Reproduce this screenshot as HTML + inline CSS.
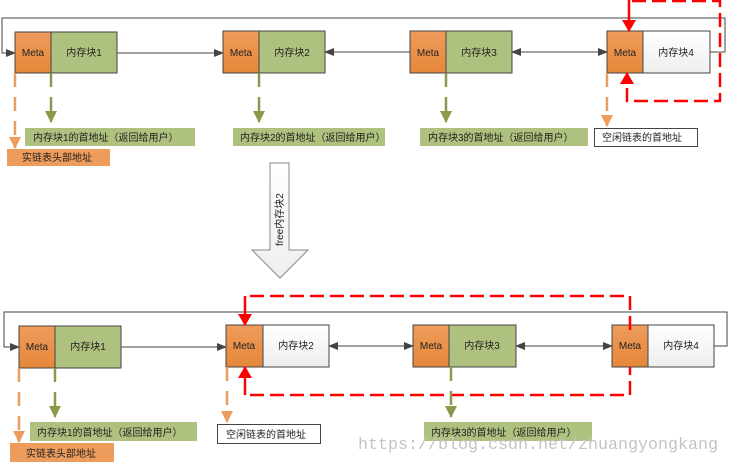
<!DOCTYPE html>
<html><head><meta charset="utf-8"><style>
body{margin:0;background:#fff;width:729px;height:463px;overflow:hidden}
text{font-family:"Liberation Sans","Noto Sans CJK SC",sans-serif;font-size:10px;fill:#222}
</style></head><body>
<svg width="729" height="463" viewBox="0 0 729 463" xmlns="http://www.w3.org/2000/svg">
<defs>
<linearGradient id="og" x1="0" y1="0" x2="0" y2="1"><stop offset="0" stop-color="#ee9c5c"/><stop offset="1" stop-color="#e5873a"/></linearGradient>
<linearGradient id="wg" x1="0" y1="0" x2="0" y2="1"><stop offset="0" stop-color="#fff"/><stop offset="1" stop-color="#eee"/></linearGradient>
<marker id="ab" markerWidth="10" markerHeight="8" refX="9" refY="4" orient="auto" markerUnits="userSpaceOnUse"><path d="M0,0L10,4L0,8z" fill="#444"/></marker>
<marker id="ar" markerWidth="12" markerHeight="14" refX="11" refY="7" orient="auto" markerUnits="userSpaceOnUse"><path d="M0,0L12,7L0,14z" fill="#f00"/></marker>
<marker id="ag" markerWidth="12" markerHeight="12" refX="11" refY="6" orient="auto" markerUnits="userSpaceOnUse"><path d="M0,0L12,6L0,12z" fill="#8a9a4a"/></marker>
<marker id="ao" markerWidth="12" markerHeight="12" refX="11" refY="6" orient="auto" markerUnits="userSpaceOnUse"><path d="M0,0L12,6L0,12z" fill="#ee9c5c"/></marker>
</defs>

<!-- TOP ROW -->
<polyline points="710,52 725,52 725,18 2,18 2,53 15,53" fill="none" stroke="#444" marker-end="url(#ab)"/>
<line x1="117" y1="53" x2="223" y2="53" stroke="#444" marker-end="url(#ab)"/>
<line x1="512" y1="52" x2="607" y2="52" stroke="#444" marker-end="url(#ab)"/>
<line x1="607" y1="52" x2="512" y2="52" stroke="#444" marker-end="url(#ab)"/>
<line x1="410" y1="52" x2="325" y2="52" stroke="#444" marker-end="url(#ab)"/>

<g stroke="#444">
<rect x="15" y="32" width="36" height="41" fill="url(#og)"/><rect x="51" y="32" width="66" height="41" fill="#afc17e"/>
<rect x="223" y="31" width="36" height="42" fill="url(#og)"/><rect x="259" y="31" width="66" height="42" fill="#afc17e"/>
<rect x="410" y="31" width="36" height="42" fill="url(#og)"/><rect x="446" y="31" width="66" height="42" fill="#afc17e"/>
<rect x="607" y="31" width="36" height="42" fill="url(#og)"/><rect x="643" y="31" width="67" height="42" fill="url(#wg)"/>
</g>
<text x="33" y="56" text-anchor="middle">Meta</text><text x="84" y="56" text-anchor="middle">内存块1</text>
<text x="241" y="56" text-anchor="middle">Meta</text><text x="292" y="56" text-anchor="middle">内存块2</text>
<text x="428" y="56" text-anchor="middle">Meta</text><text x="479" y="56" text-anchor="middle">内存块3</text>
<text x="625" y="56" text-anchor="middle">Meta</text><text x="676" y="56" text-anchor="middle">内存块4</text>

<polyline points="629,0 629,31" fill="none" stroke="#f00" stroke-width="2.5" marker-end="url(#ar)"/>
<polyline points="632,1 720,1 720,101 627,101 627,73" fill="none" stroke="#f00" stroke-width="2.5" stroke-dasharray="14,6" marker-end="url(#ar)"/>

<g stroke-width="2.5" fill="none" stroke-dasharray="14,10">
<line x1="51" y1="73" x2="51" y2="122" stroke="#8a9a4a" marker-end="url(#ag)"/>
<line x1="259" y1="73" x2="259" y2="122" stroke="#8a9a4a" marker-end="url(#ag)"/>
<line x1="446" y1="73" x2="446" y2="122" stroke="#8a9a4a" marker-end="url(#ag)"/>
<line x1="15" y1="73" x2="15" y2="148" stroke="#ee9c5c" marker-end="url(#ao)"/>
<line x1="607" y1="73" x2="607" y2="126" stroke="#ee9c5c" marker-end="url(#ao)"/>
</g>
<rect x="25" y="128" width="170" height="18" fill="#afc17e"/><text x="33" y="141">内存块1的首地址（返回给用户）</text>
<rect x="7" y="149" width="103" height="17" fill="#ee9c5c"/><text x="22" y="161">实链表头部地址</text>
<rect x="233" y="128" width="152" height="18" fill="#afc17e"/><text x="240" y="141">内存块2的首地址（返回给用户）</text>
<rect x="420" y="128" width="168" height="18" fill="#afc17e"/><text x="428" y="141">内存块3的首地址（返回给用户）</text>
<rect x="594.5" y="128.5" width="103" height="18" fill="#fff" stroke="#444"/><text x="602" y="141">空闲链表的首地址</text>

<!-- BIG ARROW -->
<path d="M270,163 L289,163 L289,250 L308,250 L280,278 L252,250 L270,250 Z" fill="url(#wg)" stroke="#888"/>
<text transform="translate(283,246) rotate(-90)" style="font-size:10px">free内存块2</text>

<!-- BOTTOM ROW -->
<polyline points="714,346 727,346 727,312 4,312 4,347 19,347" fill="none" stroke="#444" marker-end="url(#ab)"/>
<line x1="121" y1="347" x2="226" y2="347" stroke="#444" marker-end="url(#ab)"/>
<line x1="413" y1="346" x2="329" y2="346" stroke="#444" marker-end="url(#ab)"/>
<line x1="329" y1="346" x2="413" y2="346" stroke="#444" marker-end="url(#ab)"/>
<line x1="516" y1="346" x2="612" y2="346" stroke="#444" marker-end="url(#ab)"/>
<line x1="612" y1="346" x2="516" y2="346" stroke="#444" marker-end="url(#ab)"/>
<g stroke="#444">
<rect x="19" y="326" width="36" height="42" fill="url(#og)"/><rect x="55" y="326" width="66" height="42" fill="#afc17e"/>
<rect x="226" y="325" width="37" height="42" fill="url(#og)"/><rect x="263" y="325" width="66" height="42" fill="url(#wg)"/>
<rect x="413" y="325" width="36" height="42" fill="url(#og)"/><rect x="449" y="325" width="67" height="42" fill="#afc17e"/>
<rect x="612" y="325" width="36" height="42" fill="url(#og)"/><rect x="648" y="325" width="66" height="42" fill="url(#wg)"/>
</g>
<text x="37" y="350" text-anchor="middle">Meta</text><text x="88" y="350" text-anchor="middle">内存块1</text>
<text x="244" y="349" text-anchor="middle">Meta</text><text x="296" y="349" text-anchor="middle">内存块2</text>
<text x="431" y="349" text-anchor="middle">Meta</text><text x="482" y="349" text-anchor="middle">内存块3</text>
<text x="630" y="349" text-anchor="middle">Meta</text><text x="681" y="349" text-anchor="middle">内存块4</text>

<line x1="245" y1="296" x2="245" y2="325" stroke="#f00" stroke-width="2.5" marker-end="url(#ar)"/>
<line x1="245" y1="395" x2="245" y2="367" stroke="#f00" stroke-width="2.5" marker-end="url(#ar)"/>
<polyline points="250,296 630,296 630,336" fill="none" stroke="#f00" stroke-width="2.5" stroke-dasharray="14,6"/>
<polyline points="250,395 630,395 630,367" fill="none" stroke="#f00" stroke-width="2.5" stroke-dasharray="14,6"/>

<g stroke-width="2.5" fill="none" stroke-dasharray="14,10">
<line x1="55" y1="368" x2="55" y2="417" stroke="#8a9a4a" marker-end="url(#ag)"/>
<line x1="451" y1="367" x2="451" y2="417" stroke="#8a9a4a" marker-end="url(#ag)"/>
<line x1="19" y1="368" x2="19" y2="442" stroke="#ee9c5c" marker-end="url(#ao)"/>
<line x1="227" y1="367" x2="227" y2="422" stroke="#ee9c5c" marker-end="url(#ao)"/>
</g>
<rect x="30" y="422" width="167" height="19" fill="#afc17e"/><text x="37" y="436">内存块1的首地址（返回给用户）</text>
<rect x="10" y="443" width="104" height="19" fill="#ee9c5c"/><text x="26" y="457">实链表头部地址</text>
<rect x="217.5" y="424.5" width="103" height="19" fill="#fff" stroke="#444"/><text x="226" y="438">空闲链表的首地址</text>
<rect x="424" y="422" width="168" height="19" fill="#afc17e"/><text x="431" y="436">内存块3的首地址（返回给用户）</text>

<text x="358" y="449" textLength="360" lengthAdjust="spacingAndGlyphs" style="font-family:'Liberation Mono',monospace;font-size:16.5px;fill:#c4c4c4">https://blog.csdn.net/zhuangyongkang</text>
</svg>
</body></html>
